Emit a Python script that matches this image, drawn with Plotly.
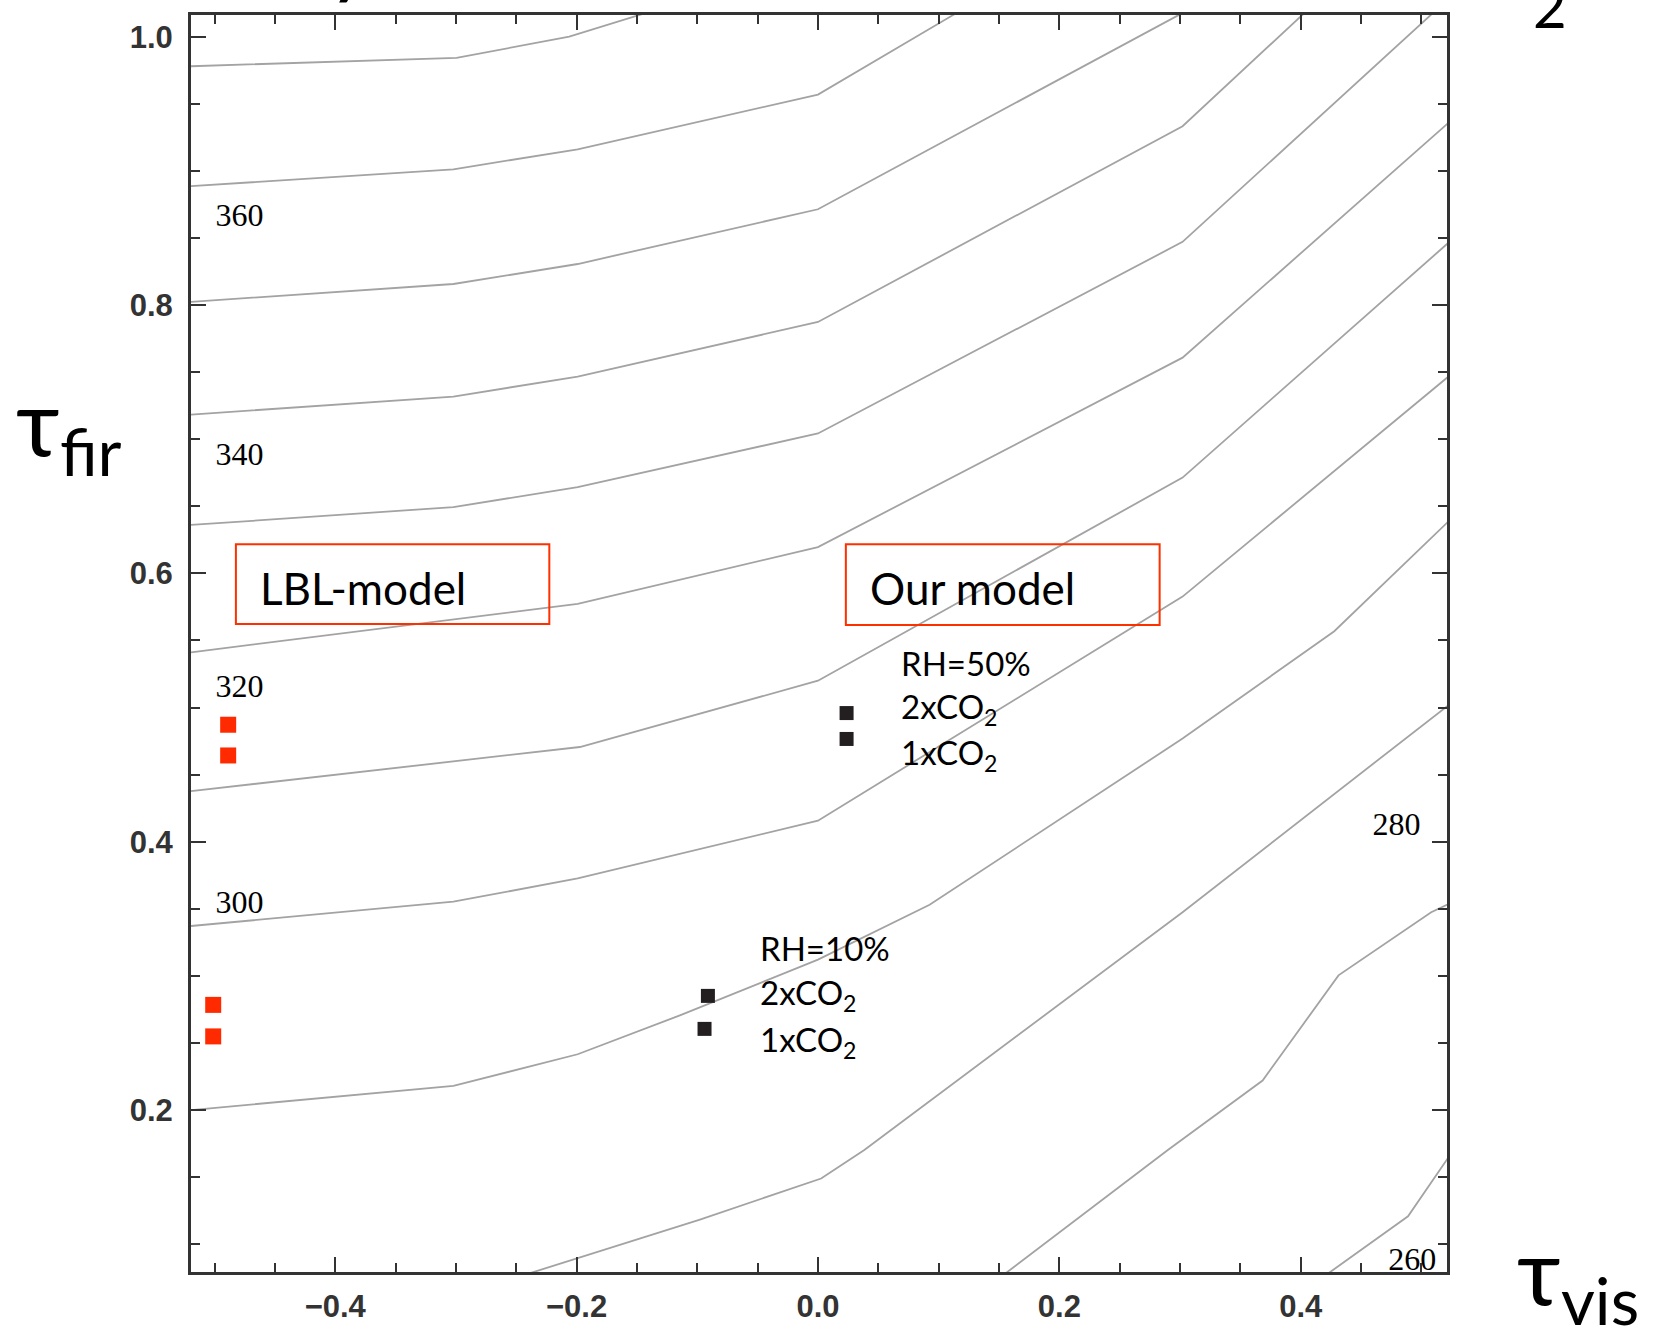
import plotly.graph_objects as go

# ---- traced contour lines of surface temperature (K): tau_vis (x), tau_fir (y)
t370_x = [-0.5195, -0.2995, -0.2061, -0.1476, -0.0664]
t370_y = [0.9780, 0.9843, 1.0000, 1.0165, 1.0390]
t360_x = [-0.5195, -0.3021, -0.1991, 0.0, 0.1126, 0.1432]
t360_y = [0.8886, 0.9012, 0.9161, 0.9569, 1.0165, 1.0337]
t350_x = [-0.5195, -0.3021, -0.1991, 0.0, 0.2995, 0.3265]
t350_y = [0.8024, 0.8157, 0.8306, 0.8714, 1.0165, 1.0306]
t340_x = [-0.5195, -0.3021, -0.1991, 0.0, 0.3021, 0.4016, 0.4226]
t340_y = [0.7184, 0.7318, 0.7467, 0.7874, 0.9333, 1.0165, 1.0329]
t330_x = [-0.5195, -0.3021, -0.1991, 0.0, 0.3021, 0.5081, 0.5273]
t330_y = [0.6361, 0.6494, 0.6643, 0.7043, 0.8471, 1.0165, 1.0314]
t320_x = [-0.5195, -0.1991, 0.0, 0.3021, 0.5212, 0.5361]
t320_y = [0.5412, 0.5773, 0.6196, 0.7608, 0.9349, 0.9467]
t310_x = [-0.5195, -0.1973, 0.0, 0.3021, 0.5212, 0.5361]
t310_y = [0.4377, 0.4706, 0.5200, 0.6714, 0.8455, 0.8573]
t300_x = [-0.5195, -0.3021, -0.1991, 0.0, 0.3021, 0.5212, 0.5361]
t300_y = [0.3372, 0.3553, 0.3726, 0.4157, 0.5827, 0.7459, 0.7569]
t290_x = [-0.5195, -0.3021, -0.1991, -0.1144, 0.0, 0.0925, 0.3021, 0.4278, 0.5212, 0.5361]
t290_y = [0.2000, 0.2180, 0.2416, 0.2706, 0.3121, 0.3530, 0.4769, 0.5569, 0.6377, 0.6502]
t280_x = [-0.2497, -0.0978, 0.0026, 0.0384, 0.3021, 0.5212, 0.5361]
t280_y = [0.0753, 0.1184, 0.1490, 0.1702, 0.3475, 0.5008, 0.5114]
t270_x = [0.1475, 0.2899, 0.3684, 0.4313, 0.5081, 0.5212, 0.5361]
t270_y = [0.0729, 0.1702, 0.2220, 0.3004, 0.3475, 0.3530, 0.3592]
t260_x = [0.4182, 0.4889, 0.5212, 0.5361]
t260_y = [0.0753, 0.1208, 0.1632, 0.1827]

# contour labels
label_text = ["360", "340", "320", "300", "280", "260"]
label_x = [-0.4793, -0.4793, -0.4793, -0.4793, 0.4793, 0.4924]
label_y = [0.8651, 0.6871, 0.5137, 0.3529, 0.4110, 0.0871]

# LBL-model points (red) and our model points (black)
lbl_x = [-0.4887, -0.4887, -0.5011, -0.5011]
lbl_y = [0.4872, 0.4643, 0.2784, 0.2549]
our_x = [0.0237, 0.0237, -0.0912, -0.0940]
our_y = [0.4959, 0.4766, 0.2851, 0.2605]

# axes ticks
x_ticks = [-0.4, -0.2, 0.0, 0.2, 0.4]
x_ticktext = ["\u22120.4", "\u22120.2", "0.0", "0.2", "0.4"]
y_ticks = [0.2, 0.4, 0.6, 0.8, 1.0]
y_ticktext = ["0.2", "0.4", "0.6", "0.8", "1.0"]

contours = [
    (370, t370_x, t370_y), (360, t360_x, t360_y), (350, t350_x, t350_y),
    (340, t340_x, t340_y), (330, t330_x, t330_y), (320, t320_x, t320_y),
    (310, t310_x, t310_y), (300, t300_x, t300_y), (290, t290_x, t290_y),
    (280, t280_x, t280_y), (270, t270_x, t270_y), (260, t260_x, t260_y),
]

fig = go.Figure()
for lev, xs, ys in contours:
    fig.add_trace(go.Scatter(x=xs, y=ys, mode="lines", name=str(lev),
                             line=dict(color="#a3a3a3", width=1.8),
                             hoverinfo="skip", showlegend=False))

fig.add_trace(go.Scatter(x=label_x, y=label_y, mode="text", text=label_text,
                         textfont=dict(family="Liberation Serif, Times New Roman, serif",
                                       size=32, color="#000"),
                         showlegend=False, hoverinfo="skip"))

fig.add_trace(go.Scatter(x=lbl_x, y=lbl_y, mode="markers",
                         marker=dict(symbol="square", size=16, color="#ff2a00"),
                         showlegend=False))
fig.add_trace(go.Scatter(x=our_x, y=our_y, mode="markers",
                         marker=dict(symbol="square", size=14, color="#231f20"),
                         showlegend=False))

sans = "Lato, Noto Sans, DejaVu Sans, sans-serif"
red = "#ff3000"

# model boxes
fig.add_shape(type="rect", xref="x", yref="y", x0=-0.4823, x1=-0.2226, y0=0.5622, y1=0.6217,
              line=dict(color=red, width=2))
fig.add_shape(type="rect", xref="x", yref="y", x0=0.0231, x1=0.2831, y0=0.5616, y1=0.6217,
              line=dict(color=red, width=2))

annots = []
def txt(x, y, s, size, xanchor="left", xref="x", yref="y", yanchor="middle", family=sans):
    annots.append(dict(x=x, y=y, xref=xref, yref=yref, text=s, showarrow=False,
                       xanchor=xanchor, yanchor=yanchor,
                       font=dict(family=family, size=size, color="#000")))

txt(-0.4644, 0.5894, "LBL-model", 44)
txt(0.0416, 0.5894, "Our model", 44)
txt(0.0670, 0.5330, "RH=50%", 33)
txt(0.0670, 0.4995, "2xCO<sub>2</sub>", 33)
txt(0.0670, 0.4648, "1xCO<sub>2</sub>", 33)
txt(-0.0498, 0.3206, "RH=10%", 33)
txt(-0.0498, 0.2860, "2xCO<sub>2</sub>", 33)
txt(-0.0498, 0.2510, "1xCO<sub>2</sub>", 33)

# axis titles
txt(-0.141, 0.673, "\u03c4<sub>fir</sub>", 94, xref="paper", yref="paper")
txt(1.054, -0.0028, "\u03c4<sub>vis</sub>", 94, xref="paper", yref="paper")

# fragments of the slide title that is cut off by the top edge
txt(0.1266, 1.0055, "y", 88, xanchor="center", xref="paper", yref="paper", yanchor="bottom")
txt(0.903, 1.0085, "g", 88, xanchor="center", xref="paper", yref="paper", yanchor="bottom")
txt(1.082, 0.9782, "2", 58, xanchor="center", xref="paper", yref="paper", yanchor="bottom")

axis_common = dict(
    showgrid=False, zeroline=False, showline=True, linewidth=3, linecolor="#333",
    mirror="ticks", ticks="inside", ticklen=15, tickwidth=2, tickcolor="#333",
    tickmode="array",
    tickfont=dict(family="Liberation Sans, Arial, sans-serif", size=31, color="#333", weight="bold"),
    minor=dict(ticks="inside", ticklen=9, tickwidth=2, tickcolor="#333", dtick=0.05, tick0=0),
)

fig.update_layout(
    width=1653, height=1340,
    margin=dict(l=191, r=206, t=13, b=68),
    paper_bgcolor="white", plot_bgcolor="white",
    annotations=annots,
    xaxis=dict(range=[-0.5195, 0.5212], tickvals=x_ticks, ticktext=x_ticktext,
               ticklabelstandoff=5, **axis_common),
    yaxis=dict(range=[0.0793, 1.0162], tickvals=y_ticks, ticktext=y_ticktext,
               ticklabelstandoff=9, **axis_common),
)

fig.write_html("out.html")
